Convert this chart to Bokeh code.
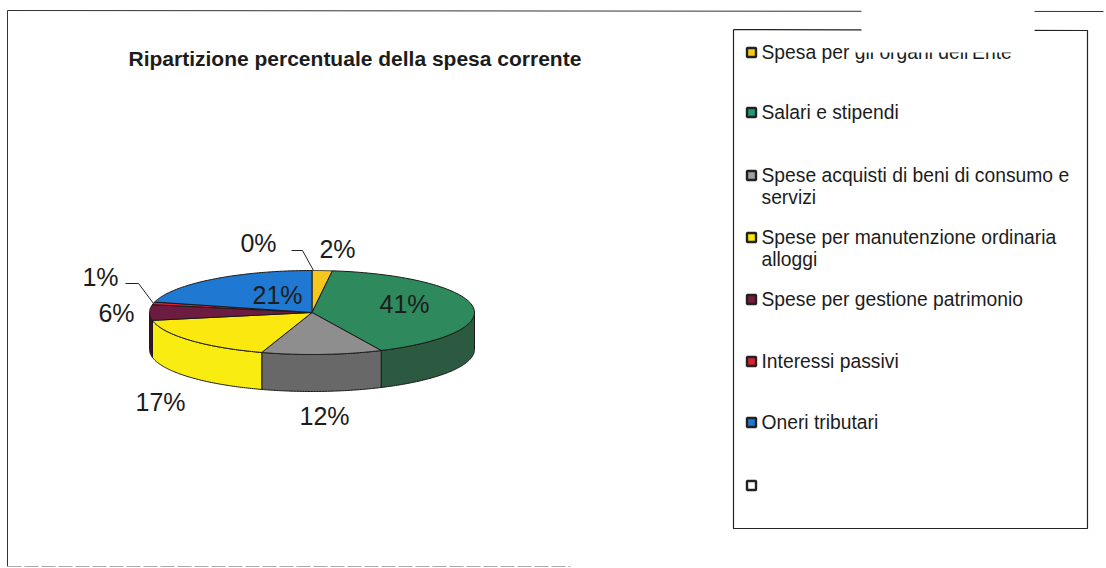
import numpy as np
from bokeh.plotting import figure
from bokeh.models import Range1d
from bokeh.core.properties import value
from bokeh.embed import file_html
from bokeh.resources import INLINE

TITLE = "Ripartizione percentuale della spesa corrente"
names = ["Spesa per gli organi dell'Ente", "Salari e stipendi",
         "Spese acquisti di beni di consumo e\nservizi",
         "Spese per manutenzione ordinaria\nalloggi",
         "Spese per gestione patrimonio", "Interessi passivi", "Oneri tributari", ""]
percent = [2, 41, 12, 17, 6, 1, 0, 21]
top_colors = ["#f6c81e", "#2e8a5c", "#8e8e8e", "#fbe80e", "#6c1c40", "#e4202e", "#c04060", "#1f78d2"]
side_colors = ["#b8961a", "#2b5a40", "#686868", "#f8ec10", "#3c1028", "#901820", "#701830", "#144e8a"]
legend_colors = ["#f6c81e", "#1e9a78", "#a0a0a0", "#fbe80e", "#7a1c40", "#d8202e", "#1f78d2", "#ffffff"]
label_x = [337, 404, 324, 160, 116, 100, 258, 277]
label_y = [248, 303, 415, 401, 312, 276, 242, 294]
legend_y = [52, 112, 175, 237, 299, 361, 422, 485]

CX, CY, RX, RY, DEPTH = 311.5, 312, 162.5, 42, 37
FONT = value("Liberation Sans")

p = figure(width=1106, height=568, x_range=Range1d(0, 1106), y_range=Range1d(568, 0),
           output_backend="svg", toolbar_location=None, min_border=0,
           background_fill_color="white", border_fill_color="white", outline_line_color=None)
p.axis.visible = False
p.grid.visible = False


def arc(a0, a1):
    t = np.radians(np.linspace(a0, a1, 80))
    return CX + RX * np.sin(t), CY - RY * np.cos(t)


edges = np.cumsum([0] + percent) * 3.6
# side walls: only the front half of the disc (90..270 degrees) is visible
for i, c in enumerate(side_colors):
    a0, a1 = max(edges[i], 90), min(edges[i + 1], 270)
    if a1 <= a0:
        continue
    x, y = arc(a0, a1)
    p.patch(np.r_[x, x[::-1]], np.r_[y, y[::-1] + DEPTH], fill_color=c,
            line_color="#1a1a1a", line_width=1)
# top faces
for i, c in enumerate(top_colors):
    if percent[i] == 0:
        continue
    x, y = arc(edges[i], edges[i + 1])
    p.patch(np.r_[CX, x], np.r_[CY, y], fill_color=c, line_color="#1a1a1a", line_width=1)

# leader lines
p.line([291, 302, 313], [250, 250, 270], line_color="#222222", line_width=1)
p.line([125, 138, 153], [283, 283, 303], line_color="#222222", line_width=1)

# percentage labels
p.text(label_x, label_y, text=[f"{v}%" for v in percent], text_font=FONT, text_font_size="25px",
       text_color="#1c1c1c", text_align="center", text_baseline="middle")

# title
p.text([128], [58], text=[TITLE], text_font=FONT, text_font_size="21px", text_font_style="bold",
       text_color="#1c1c1c", text_align="left", text_baseline="middle")

# outer frame and legend box
p.line([1103, 7, 7], [11, 10, 566], line_color="#333333", line_width=1)
p.line([7, 570], [566, 566], line_color="#aaaaaa", line_width=1, line_dash="14 3")
p.line([733, 733, 1087, 1087, 733], [29, 528, 528, 30, 29], line_color="#222222", line_width=1.2)

# legend
p.scatter([751] * len(names), legend_y, marker="square", size=9, fill_color=legend_colors,
          line_color="#222222", line_width=2.4)
for name, y in zip(names, legend_y):
    for j, part in enumerate(name.split("\n")):
        if part:
            p.text([761], [y + j * 22], text=[part], text_font=FONT, text_font_size="19.3px",
                   text_color="#1c1c1c", text_align="left", text_baseline="middle")

# blanked-out area of the scan
p.quad(left=[861], right=[1034], top=[0], bottom=[40], fill_color="white", line_color=None)
p.quad(left=[855], right=[1034], top=[40], bottom=[52], fill_color="white", line_color=None)

open("out.html", "w").write(file_html(p, INLINE))
